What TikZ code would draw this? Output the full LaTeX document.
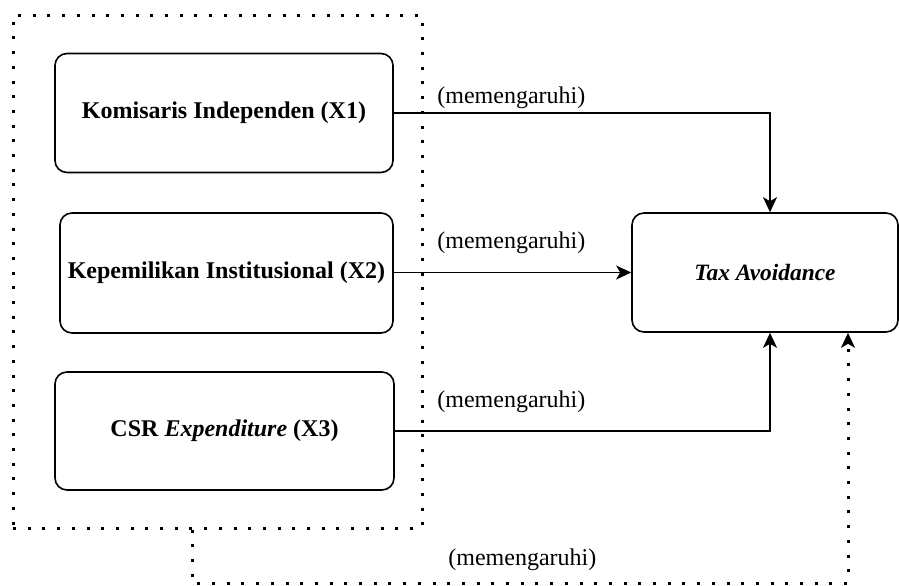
\documentclass[tikz,border=0pt]{standalone}
\usepackage{fontspec}
\setmainfont{Liberation Serif}[
  BoldFont={Liberation Serif Bold},
  ItalicFont={Liberation Serif Italic},
  BoldItalicFont={Liberation Serif Bold Italic}]
\usetikzlibrary{arrows.meta}

\begin{document}
\begin{tikzpicture}[x=0.5pt,y=-0.5pt,
    varbox/.style={draw,rounded corners=6pt,line width=0.8pt,inner sep=0pt,
      font=\fontsize{12}{14}\selectfont\bfseries},
    lbl/.style={anchor=west,inner sep=0pt,font=\fontsize{12}{14}\selectfont},
    arr/.style={line width=0.8pt,-{Stealth[length=7.5pt,width=7pt,inset=2pt]}},
    dotline/.style={line width=1.5pt,dash pattern=on 1.5pt off 5.85pt},
    dotarr/.style={dotline,-{Stealth[length=7.5pt,width=7pt,inset=2pt,line width=0.8pt]}}]
        \useasboundingbox (0,0) rectangle (899,585);
        % dotted group round the three variables
        \node[dotline,draw,minimum width=204.5pt,minimum height=256.5pt,inner sep=0pt] (grp) at (217.5,271.5) {};
        \node[varbox,minimum width=169pt,minimum height=59.5pt] (x1) at (224,113) {Komisaris Independen (X1)};
        \node[varbox,minimum width=166.5pt,minimum height=60pt] (x2) at (226.5,273) {Kepemilikan Institusional (X2)};
        \node[varbox,minimum width=169.5pt,minimum height=59pt] (x3) at (224.5,431) {CSR \textit{Expenditure} (X3)};
        \node[varbox,minimum width=133pt,minimum height=59.5pt,font=\fontsize{11.7}{14}\selectfont\bfseries\itshape] (ta) at (765,272.5) {Tax Avoidance};
        \coordinate (k1) at (770,113);
        \coordinate (k3) at (770,431);
        \coordinate (d1) at (192,583);
        \coordinate (d2) at (848,583);
        \draw[arr] (x1.east) -- (k1) -- (k1 |- ta.north);
        \draw[arr] (x2.east |- ta.west) -- (ta.west);
        \draw[arr] (x3.east) -- (k3) -- (k3 |- ta.south);
        \draw[dotarr] (grp.south -| d1) -- (d1) -- (d2) -- (d2 |- ta.south);
        \node[lbl] (l1) at (437,98) {(memengaruhi)};
        \node[lbl] (l2) at (437,243) {(memengaruhi)};
        \node[lbl] (l3) at (437,402) {(memengaruhi)};
        \node[lbl] (l4) at (448,560) {(memengaruhi)};
      \end{tikzpicture}
\end{document}
